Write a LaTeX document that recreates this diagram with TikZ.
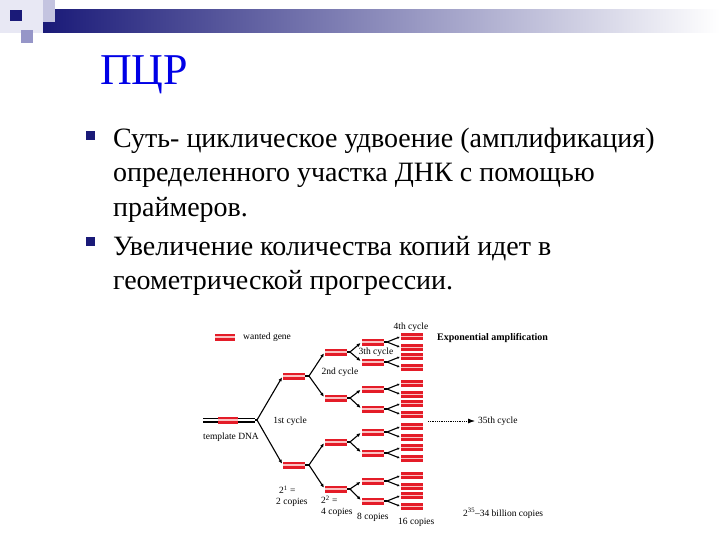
\documentclass[tikz,border=0pt]{standalone}
\usepackage{fontspec}
\setmainfont{Liberation Serif}
\usetikzlibrary{arrows.meta}

\definecolor{slidenavy}{RGB}{26,26,120}
\definecolor{titleblue}{RGB}{0,0,230}
\definecolor{genered}{RGB}{228,28,40}
\definecolor{genepink}{RGB}{250,195,195}
\definecolor{headlight}{RGB}{232,232,244}
\definecolor{headlav}{RGB}{196,196,224}
\definecolor{headmid}{RGB}{150,150,200}

\begin{document}
\begin{tikzpicture}
		[x=1pt, y=-1pt,
		gene/.style ={rectangle, inner sep=0pt, minimum width=22pt, minimum height=6pt, fill=genepink,
			path picture={\draw[genered, line width=4.2pt]
				(path picture bounding box.north west) -- (path picture bounding box.north east)
				(path picture bounding box.south west) -- (path picture bounding box.south east);}},
		template/.style ={rectangle, inner sep=0pt, minimum width=52pt, minimum height=4pt,
			path picture={\draw[black, line width=1.8pt]
				(path picture bounding box.north west) -- (path picture bounding box.north east)
				(path picture bounding box.south west) -- (path picture bounding box.south east);}},
		link/.style ={draw, line width=1.1pt},
		branch/.style ={link, -{Latex[length=4pt,width=3.5pt]}, shorten >=1.5pt},
		twig/.style ={link, -{Latex[length=2.5pt,width=2.5pt]}, shorten >=1pt},
		lbl/.style ={font=\fontsize{9.5}{10.5}\selectfont, inner sep=0pt, align=left},
		bullet/.style ={rectangle, fill=slidenavy, minimum size=9pt, inner sep=0pt},
		body/.style ={font=\fontsize{28}{34}\selectfont, inner sep=0pt, align=left, anchor=base west},
		]

		\useasboundingbox (0,0) rectangle (720,540);

		% slide header
		\fill[headlight] (0,0) rectangle (55,33);
		\shade[left color=slidenavy, right color=white] (43,10) rectangle (720,33);
		\fill[headlav] (43,0) rectangle (55,22);
		\fill[slidenavy] (10,10) rectangle (22,21);
		\fill[headmid] (21,30) rectangle (33,43);

		\node[font=\fontsize{44}{44}\selectfont, text=titleblue, inner sep=0pt, anchor=base west] (title) at (100,85) {ПЦР};

		% bullets (base of a multi-line node = its last line)
		\node[bullet] (b1) at (90.5,135.5) {};
		\node[bullet] (b2) at (90.5,241.5) {};
		\node[body] (t1) at (113,216) {Суть- циклическое удвоение (амплификация)\\определенного участка ДНК с помощью\\праймеров.};
		\node[body] (t2) at (113,289) {Увеличение количества копий идет в\\геометрической прогрессии.};

		% legend
		\node[gene, minimum width=20pt] (key) at (225,337) {};
		\node[lbl, anchor=west] (keytext) at (243,337) {wanted gene};

		% template and 1st cycle
		\node[template] (tmpl) at (229,420) {};
		\node[gene, minimum width=20pt] (tgene) at (228,420) {};
		\node[lbl] (tmpltext) at (231,437) {template DNA};
		\coordinate (v1) at (257,420);
		\draw (294,376) node[gene] (c1a) {};
		\draw (294,465) node[gene] (c1b) {};
		\draw[link] (tmpl.east) -- (v1) edge[branch] (c1a.west) edge[branch] (c1b.west);
		\node[lbl] (cyc1) at (290,421) {1st cycle};

		% 2nd cycle
		\coordinate (v2a) at (309,376);
		\coordinate (v2b) at (309,465);
		\draw (336,352) node[gene] (c2a) {};
		\draw (336,398) node[gene] (c2b) {};
		\draw (336,442) node[gene] (c2c) {};
		\draw (336,489) node[gene] (c2d) {};
		\draw[link] (c1a.east) -- (v2a) edge[branch] (c2a.west) edge[branch] (c2b.west);
		\draw[link] (c1b.east) -- (v2b) edge[branch] (c2c.west) edge[branch] (c2d.west);
		\node[lbl] (cyc2) at (340,372) {2nd cycle};

		% 3rd cycle
		\coordinate (v3a) at (350,352);
		\coordinate (v3b) at (350,398);
		\coordinate (v3c) at (350,442);
		\coordinate (v3d) at (350,489);
		\draw (373,342) node[gene] (c3a) {};
		\draw (373,362) node[gene] (c3b) {};
		\draw (373,389) node[gene] (c3c) {};
		\draw (373,409) node[gene] (c3d) {};
		\draw (373,432) node[gene] (c3e) {};
		\draw (373,453) node[gene] (c3f) {};
		\draw (373,481) node[gene] (c3g) {};
		\draw (373,501) node[gene] (c3h) {};
		\draw[link] (c2a.east) -- (v3a) edge[branch] (c3a.west) edge[branch] (c3b.west);
		\draw[link] (c2b.east) -- (v3b) edge[branch] (c3c.west) edge[branch] (c3d.west);
		\draw[link] (c2c.east) -- (v3c) edge[branch] (c3e.west) edge[branch] (c3f.west);
		\draw[link] (c2d.east) -- (v3d) edge[branch] (c3g.west) edge[branch] (c3h.west);
		\node[lbl, fill=white, inner sep=0.5pt] (cyc3) at (376,352) {3th cycle};

		% 4th cycle
		\foreach \n/\y in {a/342,b/362,c/389,d/409,e/432,f/453,g/481,h/501}{
			\coordinate (v4\n) at (387,\y);
			\node[gene] (c4\n1) at (412,\y-5.5) {};
			\node[gene] (c4\n2) at (412,\y+5.5) {};
			\draw[link] (c3\n.east) -- (v4\n) edge[twig] (c4\n1.west) edge[twig] (c4\n2.west);
		}
		\node[lbl] (cyc4) at (411,327) {4th cycle};

		% amplification
		\node[lbl, font=\fontsize{10}{11}\selectfont\bfseries, anchor=west] (expo) at (437,338) {Exponential amplification};
		\coordinate (d0) at (428,421);
		\node[lbl, anchor=west] (cyc35) at (478,421) {35th cycle};
		\draw[densely dotted, line width=0.8pt, -{Latex[length=7pt,width=5pt]}, shorten >=3pt] (d0) -- (cyc35.west);

		% copy counts
		\node[lbl, anchor=west] (n2) at (276,496) {\hspace*{3pt}2\textsuperscript{1} =\\2 copies};
		\node[lbl, anchor=west] (n4) at (321,506) {2\textsuperscript{2} =\\4 copies};
		\node[lbl, anchor=west] (n8) at (357,517) {8 copies};
		\node[lbl, anchor=west] (n16) at (398,522) {16 copies};
		\node[lbl, anchor=west] (n35) at (463,513) {2\textsuperscript{35}–34 billion copies};
	\end{tikzpicture}
\end{document}
